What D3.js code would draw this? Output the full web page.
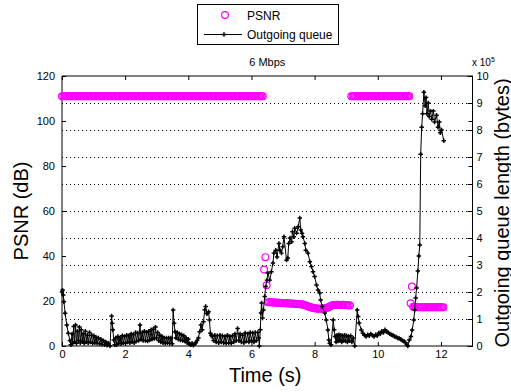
<!DOCTYPE html>
<html>
<head>
<meta charset="utf-8">
<script src="https://cdn.jsdelivr.net/npm/d3@7"></script>
<style>
body { margin: 0; background: #fff; }
svg { display: block; font-family: "Liberation Sans", Arial, sans-serif; }
</style>
</head>
<body>
<div id="chart"></div>
<script>
// video frame period (s), PSNR is one value per frame
var frameInterval = 0.04;

// PSNR per frame (dB), left axis
var psnr = [
  111,111,111,111,111,111,111,111,111,111, 111,111,111,111,111,111,111,111,111,111,
  111,111,111,111,111,111,111,111,111,111, 111,111,111,111,111,111,111,111,111,111,
  111,111,111,111,111,111,111,111,111,111, 111,111,111,111,111,111,111,111,111,111,
  111,111,111,111,111,111,111,111,111,111, 111,111,111,111,111,111,111,111,111,111,
  111,111,111,111,111,111,111,111,111,111, 111,111,111,111,111,111,111,111,111,111,
  111,111,111,111,111,111,111,111,111,111, 111,111,111,111,111,111,111,111,111,111,
  111,111,111,111,111,111,111,111,111,111, 111,111,111,111,111,111,111,111,111,111,
  111,111,111,111,111,111,111,111,111,111, 111,111,111,111,111,111,111,111,111,111,
  34, 39.5, 27,
  19.5,19.5,19.4,19.4,19.3,19.3,19.3,19.2,19.2,19.2,19.1,19.1,19.1,19.0,19.0,19.0,19.0,18.9,18.9,18.9,
  18.8,18.8,18.8,18.7,18.7,18.6,18.6,18.5,
  18.4,18.2,18.0,17.8,17.6,17.4,17.2,17.0,16.9,
  16.8,16.7,16.7,16.6,16.6,16.6,16.7,16.7,16.8,16.9,17.0,
  17.3,17.6,17.9,18.1,
  18.2,18.2,18.3,18.3,18.3,18.2,18.2,18.3,18.3,18.2,18.2,18.1,18.1,18.0,
  111,111,111,111,111,111,111,111,111,111, 111,111,111,111,111,111,111,111,111,111,
  111,111,111,111,111,111,111,111,111,111, 111,111,111,111,111,111,111,111,111,111,
  111,111,111,111,111,111,111,
  19, 26.4,
  17.4,17.3,17.3,17.2,17.2,17.2,17.2,17.2,17.2,17.2,17.2,17.2,17.2,
  17.2,17.2,17.2,17.2,17.2,17.2,17.2,17.2,17.2,17.2,17.2,17.2
];

// outgoing queue length [time (s), bytes x 10^5], right axis
var queue = [
  [0,2.0],[0.02,2.07],[0.04,1.89],[0.06,1.64],[0.1,1.21],[0.15,0.78],[0.2,0.47],[0.25,0.2],[0.28,0.05],
  [0.32,0.45],[0.34,0.1],[0.37,0.72],[0.40,0.15],[0.43,0.78],[0.46,0.1],[0.49,0.55],[0.52,0.2],[0.55,0.7],
  [0.58,0.12],[0.61,0.6],[0.64,0.18],[0.67,0.45],[0.70,0.1],[0.74,0.55],[0.77,0.15],[0.80,0.4],[0.83,0.12],
  [0.87,0.5],[0.90,0.15],[0.94,0.4],[0.97,0.1],[1.01,0.38],[1.04,0.12],[1.08,0.32],[1.11,0.1],[1.15,0.3],
  [1.19,0.08],[1.23,0.25],[1.27,0.06],[1.31,0.2],[1.35,0.05],[1.39,0.15],[1.43,0.03],[1.47,0.1],[1.52,0.0],
  [1.57,1.11],[1.59,0.84],[1.61,0.6],[1.64,0.22],[1.67,0.05],
  [1.70,0.3],[1.73,0.05],[1.77,0.35],[1.80,0.1],[1.84,0.3],[1.87,0.08],[1.91,0.38],[1.94,0.12],[1.98,0.35],
  [2.01,0.1],[2.05,0.4],[2.08,0.15],[2.12,0.38],[2.15,0.12],[2.19,0.45],[2.22,0.15],[2.26,0.42],[2.29,0.12],
  [2.33,0.5],[2.36,0.18],[2.40,0.48],[2.43,0.2],[2.47,0.78],[2.50,0.25],[2.54,0.5],[2.57,0.2],[2.61,0.55],
  [2.64,0.2],[2.68,0.5],[2.71,0.18],[2.75,0.55],[2.78,0.22],[2.82,0.6],[2.85,0.25],[2.89,0.62],[2.92,0.28],
  [2.96,0.7],[2.99,0.3],[3.03,0.5],[3.06,0.2],[3.10,0.4],[3.13,0.15],[3.17,0.35],[3.20,0.12],[3.24,0.3],
  [3.27,0.1],[3.31,0.3],[3.34,0.12],[3.38,0.3],[3.41,0.1],[3.45,0.3],[3.49,0.08],
  [3.52,1.33],[3.55,0.84],[3.58,0.53],[3.61,0.3],[3.65,0.5],[3.68,0.25],[3.72,0.45],[3.75,0.22],[3.79,0.42],
  [3.82,0.2],[3.86,0.38],[3.89,0.18],[3.93,0.3],[3.96,0.12],[4.00,0.25],[4.04,0.08],[4.08,0.05],[4.12,0.1],
  [4.16,0.03],[4.20,0.08],[4.24,0.12],[4.28,0.2],[4.32,0.3],
  [4.36,0.53],[4.40,0.78],[4.44,0.6],[4.48,0.9],[4.52,1.33],[4.55,1.46],[4.58,1.2],[4.61,1.21],[4.64,1.27],
  [4.67,0.96],[4.70,0.47],[4.73,0.4],
  [4.76,0.35],[4.80,0.2],[4.84,0.4],[4.88,0.15],[4.92,0.38],[4.96,0.12],[5.00,0.4],[5.04,0.15],[5.08,0.38],
  [5.12,0.12],[5.16,0.35],[5.20,0.1],[5.24,0.4],[5.28,0.12],[5.32,0.35],[5.36,0.1],[5.40,0.38],[5.44,0.15],
  [5.48,0.45],[5.52,0.2],[5.56,0.65],[5.60,0.2],[5.64,0.45],[5.68,0.15],[5.72,0.4],[5.76,0.12],[5.80,0.48],
  [5.84,0.18],[5.88,0.45],[5.92,0.15],[5.96,0.5],[6.00,0.2],[6.04,0.48],[6.08,0.15],[6.12,0.5],[6.16,0.2],
  [6.20,0.5],[6.23,0.3],[6.25,0.0],
  [6.28,0.6],[6.30,1.22],[6.32,1.59],[6.35,1.04],[6.38,1.33],[6.42,1.83],[6.45,2.2],[6.49,2.44],[6.52,2.7],
  [6.58,2.44],[6.63,2.75],[6.68,3.07],[6.71,3.44],[6.77,3.55],[6.81,3.3],[6.87,3.8],[6.90,3.55],[6.95,3.44],
  [6.99,3.68],[7.03,4.05],[7.11,3.18],[7.15,3.26],[7.18,3.8],[7.22,4.0],[7.27,3.86],[7.30,4.23],[7.34,4.05],
  [7.37,4.36],[7.43,4.18],[7.48,4.42],[7.53,4.74],[7.56,4.3],[7.60,4.18],[7.63,4.05],[7.69,3.8],[7.72,3.55],
  [7.79,3.44],[7.85,3.12],[7.90,2.94],[7.95,2.75],[8.00,2.57],[8.06,2.26],[8.11,2.07],[8.16,1.96],[8.19,1.7],
  [8.24,1.46],[8.32,1.22],[8.37,0.96],[8.42,0.59],[8.45,0.22],[8.48,0.1],
  [8.52,0.05],[8.59,0.96],[8.62,0.6],[8.65,0.35],[8.68,0.15],[8.71,0.4],[8.74,0.18],[8.77,0.42],[8.80,0.2],
  [8.83,0.4],[8.86,0.15],[8.89,0.38],[8.92,0.2],[8.95,0.4],[8.98,0.18],[9.01,0.38],[9.04,0.15],[9.07,0.35],
  [9.10,0.2],[9.14,0.38],[9.18,0.15],[9.22,0.3],[9.27,0.0],
  [9.35,1.33],[9.38,1.09],[9.41,0.85],[9.48,0.59],[9.53,0.47],[9.58,0.4],[9.63,0.35],[9.68,0.42],[9.73,0.38],
  [9.78,0.45],[9.83,0.4],[9.88,0.35],[9.93,0.42],[9.98,0.38],[10.03,0.48],[10.08,0.45],[10.13,0.55],
  [10.18,0.5],[10.23,0.6],[10.28,0.53],[10.33,0.5],[10.38,0.45],[10.43,0.42],[10.48,0.4],[10.53,0.35],
  [10.58,0.33],[10.63,0.3],[10.68,0.28],[10.73,0.25],[10.78,0.2],[10.83,0.18],[10.88,0.12],[10.92,0.05],
  [10.95,0.0],
  [11.0,0.22],[11.05,0.35],[11.09,0.59],[11.14,0.96],[11.17,1.33],[11.2,1.78],[11.23,2.15],[11.27,2.78],
  [11.30,3.33],[11.33,3.74],[11.36,7.1],[11.39,8.1],[11.42,8.6],[11.46,9.4],[11.50,8.9],[11.53,9.2],
  [11.56,8.6],[11.60,9.0],[11.63,8.5],[11.67,8.7],[11.71,8.4],[11.76,8.7],[11.80,8.3],[11.86,8.55],
  [11.91,8.1],[11.95,8.3],[11.98,7.9],[12.02,8.0],[12.09,7.6]
];

var xTicks = [0, 2, 4, 6, 8, 10, 12];
var psnrTicks = [0, 20, 40, 60, 80, 100, 120];
var queueTicks = [0, 1, 2, 3, 4, 5, 6, 7, 8, 9, 10];

var margin = {top: 76, right: 38.5, bottom: 46, left: 62},
    width  = 511 - margin.left - margin.right,
    height = 392 - margin.top - margin.bottom;

var svgRoot = d3.select('#chart').append('svg')
    .attr('width', 511).attr('height', 392);

var svg = svgRoot.append('g')
    .attr('transform', 'translate(' + margin.left + ',' + margin.top + ')');

var x  = d3.scaleLinear().domain([0, 13]).range([0, width]);
var yL = d3.scaleLinear().domain([0, 120]).range([height, 0]);
var yR = d3.scaleLinear().domain([0, 10]).range([height, 0]);

// dotted grid from the right axis
svg.selectAll('.grid')
   .data(queueTicks.filter(function(d){ return d > 0 && d < 10; }))
   .enter().append('line')
   .attr('x1', 0).attr('x2', width)
   .attr('y1', function(d){ return Math.round(yR(d)) + 0.5; })
   .attr('y2', function(d){ return Math.round(yR(d)) + 0.5; })
   .style('stroke', '#000')
   .style('stroke-width', 1)
   .style('stroke-dasharray', '1,3');

// axes, ticks pointing inward
function styleAxis(g) {
  g.select('.domain').remove();
  g.selectAll('text').style('font-size', '11px').style('font-family', '"Liberation Sans", Arial, sans-serif').attr('fill', '#000');
  g.selectAll('line').style('stroke', '#000');
}

svg.append('g').attr('transform', 'translate(0,' + height + ')')
   .call(d3.axisBottom(x).tickValues(xTicks).tickSizeInner(-4).tickSizeOuter(0).tickPadding(4))
   .call(styleAxis);
svg.append('g')
   .call(d3.axisTop(x).tickValues(xTicks).tickSizeInner(-4).tickSizeOuter(0).tickFormat(''))
   .call(styleAxis);
svg.append('g')
   .call(d3.axisLeft(yL).tickValues(psnrTicks).tickSizeInner(-4).tickSizeOuter(0).tickPadding(7))
   .call(styleAxis);
svg.append('g').attr('transform', 'translate(' + width + ',0)')
   .call(d3.axisRight(yL).tickValues(psnrTicks).tickSizeInner(-4).tickSizeOuter(0).tickFormat(''))
   .call(styleAxis);
svg.append('g').attr('transform', 'translate(' + width + ',0)')
   .call(d3.axisRight(yR).tickValues(queueTicks).tickSizeInner(-5).tickSizeOuter(0).tickPadding(4))
   .call(styleAxis);

// box
svg.append('rect')
   .attr('x', 0).attr('y', 0)
   .attr('width', width).attr('height', height)
   .style('fill', 'none').style('stroke', '#000').style('stroke-width', 1);

// PSNR circles
svg.selectAll('.psnr')
   .data(psnr).enter()
   .append('circle')
   .attr('class', 'psnr')
   .attr('cx', function(d, i){ return x(i * frameInterval); })
   .attr('cy', function(d){ return yL(d); })
   .attr('r', 3.4)
   .style('fill', 'none')
   .style('stroke', '#ff00ff')
   .style('stroke-width', 1.2);

// queue line + markers
var line = d3.line()
   .x(function(d){ return x(d[0]); })
   .y(function(d){ return yR(d[1]); });

svg.append('path')
   .datum(queue)
   .attr('d', line)
   .style('fill', 'none')
   .style('stroke', '#000')
   .style('stroke-width', 1);

var marker = d3.symbol().type(d3.symbolCross).size(11);
svg.selectAll('.qmark')
   .data(queue).enter()
   .append('path')
   .attr('class', 'qmark')
   .attr('transform', function(d){ return 'translate(' + x(d[0]) + ',' + yR(d[1]) + ')'; })
   .attr('d', marker)
   .style('fill', '#000');

// title
svgRoot.append('text')
   .attr('x', margin.left + width / 2).attr('y', 66)
   .attr('text-anchor', 'middle')
   .style('font-size', '11px')
   .text('6 Mbps');

// axis labels
svgRoot.append('text')
   .attr('x', margin.left + width / 2 - 2).attr('y', 382)
   .attr('text-anchor', 'middle')
   .style('font-size', '20px')
   .text('Time (s)');

svgRoot.append('text')
   .attr('transform', 'translate(28,' + (margin.top + height / 2) + ') rotate(-90)')
   .attr('text-anchor', 'middle')
   .style('font-size', '20px')
   .text('PSNR (dB)');

svgRoot.append('text')
   .attr('transform', 'translate(509,' + (margin.top + height / 2 + 2) + ') rotate(-90)')
   .attr('text-anchor', 'middle')
   .style('font-size', '20px')
   .text('Outgoing queue length (bytes)');

// x 10^5 exponent
var expo = svgRoot.append('text')
   .attr('x', 472).attr('y', 66)
   .style('font-size', '10px');
expo.append('tspan').text('x 10');
expo.append('tspan').attr('dy', -4).style('font-size', '7px').text('5');

// legend
var legend = svgRoot.append('g');
legend.append('rect')
   .attr('x', 197.5).attr('y', 4.5).attr('width', 141).attr('height', 40)
   .style('fill', '#fff').style('stroke', '#000').style('stroke-width', 1);
legend.append('circle')
   .attr('cx', 225).attr('cy', 15).attr('r', 3.4)
   .style('fill', 'none').style('stroke', '#ff00ff').style('stroke-width', 1.2);
legend.append('line')
   .attr('x1', 204).attr('x2', 242).attr('y1', 34.5).attr('y2', 34.5)
   .style('stroke', '#000');
legend.append('path')
   .attr('transform', 'translate(224,34.5)')
   .attr('d', marker)
   .style('fill', '#000');
legend.append('text')
   .attr('x', 247).attr('y', 19.5)
   .style('font-size', '12px')
   .text('PSNR');
legend.append('text')
   .attr('x', 247).attr('y', 38.5)
   .style('font-size', '12px')
   .text('Outgoing queue');
</script>
</body>
</html>
